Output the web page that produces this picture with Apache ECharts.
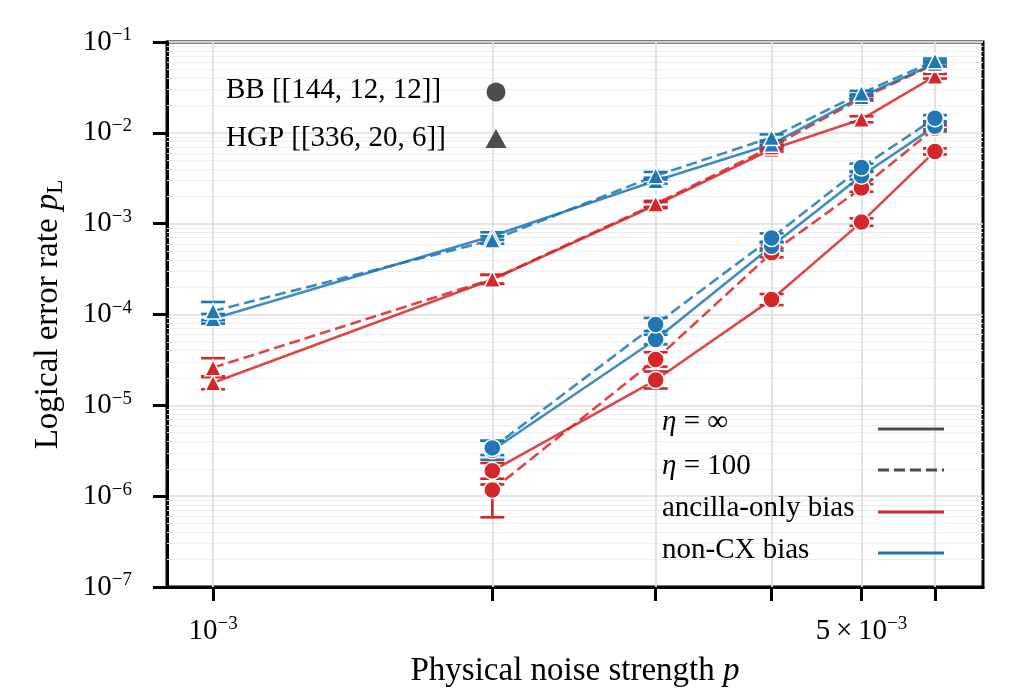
<!DOCTYPE html>
<html>
<head>
<meta charset="utf-8">
<script src="https://cdn.jsdelivr.net/npm/echarts@6/dist/echarts.min.js"></script>
<style>
  html, body { margin: 0; padding: 0; background: #fff; }
  #chart { width: 1013px; height: 693px; }
</style>
</head>
<body>
<div id="chart"></div>
<script>
// physical noise strengths
var pHGP = [0.001, 0.002, 0.003, 0.004, 0.005, 0.006];
var pBB = [0.002, 0.003, 0.004, 0.005, 0.006];

// HGP [[336,20,6]] logical error rates
var hgpAncInf = [1.77e-5, 2.43e-4, 1.60e-3, 6.6e-3, 1.41e-2, 4.2e-2];
var hgpAnc100 = [2.6e-5, 2.45e-4, 1.65e-3, 7.0e-3, 2.4e-2, 5.7e-2];
var hgpCxInf = [8.97e-5, 7.3e-4, 2.97e-3, 7.5e-3, 2.5e-2, 5.8e-2];
var hgpCx100 = [1.09e-4, 6.6e-4, 3.37e-3, 8.9e-3, 2.73e-2, 6.2e-2];

// BB [[144,12,12]] logical error rates
var bbAncInf = [1.9e-6, 1.9e-5, 1.46e-4, 1.04e-3, 6.24e-3];
var bbAnc100 = [1.17e-6, 3.2e-5, 4.77e-4, 2.47e-3, 1.12e-2];
var bbCxInf = [3.2e-6, 5.3e-5, 5.64e-4, 3.37e-3, 1.18e-2];
var bbCx100 = [3.4e-6, 7.76e-5, 6.97e-4, 4.16e-3, 1.45e-2];

// error bar extents (multiplicative factor above / below the point)
var hgpAncInfErr = [1.18, 1.12, 1.08, 1.06, 1.08, 1.06];
var hgpAnc100Err = [1.27, 1.12, 1.08, 1.06, 1.06, 1.06];
var hgpCxInfErr = [1.13, 1.1, 1.08, 1.06, 1.06, 1.06];
var hgpCx100Err = [1.26, 1.1, 1.1, 1.08, 1.06, 1.06];
var bbAncInfErr = [1.22, 1.24, 1.15, 1.1, 1.08];
var bbAnc100Err = [1.15, 1.2, 1.12, 1.1, 1.08];
var bbAnc100ErrDown = [2.0, 1.2, 1.12, 1.1, 1.08];
var bbCxInfErr = [1.27, 1.13, 1.12, 1.1, 1.08];
var bbCx100Err = [1.2, 1.18, 1.12, 1.1, 1.08];

// axis ticks
var xTicks = [0.001, 0.002, 0.003, 0.004, 0.005, 0.006];
var xLabelTicks = [0.001, 0.005];
var yDecades = [-7, -6, -5, -4, -3, -2, -1];

var RED = '#d62728', BLUE = '#1f77b4', GRAY = '#4d4d4d';
var SERIF = '"Liberation Serif", "DejaVu Serif", serif';
var xMin = 8.92e-4, xMax = 6.76e-3;

var curves = [
  {p: pHGP, y: hgpAncInf, up: hgpAncInfErr, dn: hgpAncInfErr, color: RED, dash: false, sym: 'triangle'},
  {p: pHGP, y: hgpAnc100, up: hgpAnc100Err, dn: hgpAnc100Err, color: RED, dash: true, sym: 'triangle'},
  {p: pHGP, y: hgpCxInf, up: hgpCxInfErr, dn: hgpCxInfErr, color: BLUE, dash: false, sym: 'triangle'},
  {p: pHGP, y: hgpCx100, up: hgpCx100Err, dn: hgpCx100Err, color: BLUE, dash: true, sym: 'triangle'},
  {p: pBB, y: bbAncInf, up: bbAncInfErr, dn: bbAncInfErr, color: RED, dash: false, sym: 'circle'},
  {p: pBB, y: bbAnc100, up: bbAnc100Err, dn: bbAnc100ErrDown, color: RED, dash: true, sym: 'circle'},
  {p: pBB, y: bbCxInf, up: bbCxInfErr, dn: bbCxInfErr, color: BLUE, dash: false, sym: 'circle'},
  {p: pBB, y: bbCx100, up: bbCx100Err, dn: bbCx100Err, color: BLUE, dash: true, sym: 'circle'}
];

// minor grid values 2..9 x 10^n
var minorY = [];
yDecades.forEach(function (n) {
  if (n >= -1) return;
  for (var k = 2; k <= 9; k++) minorY.push(k * Math.pow(10, n));
});

function powLabel(v) {
  var e = Math.floor(v + 1e-9);
  var m = Math.round(Math.pow(10, v - e));
  var ex = '\u2212' + (-e);
  return m === 1 ? '{b|10}{s|' + ex + '}' : '{b|' + m + '\u2009\u00d7\u200910}{s|' + ex + '}';
}

var tickRich = {
  b: {fontFamily: SERIF, fontSize: 29, color: '#000', lineHeight: 32},
  s: {fontFamily: SERIF, fontSize: 19, color: '#000', verticalAlign: 'top'}
};

var series = [];

// grid lines
series.push({
  type: 'line', data: [], z: 1, silent: true,
  markLine: {
    silent: true, z: 1, symbol: ['none', 'none'], label: {show: false}, animation: false, precision: 12,
    emphasis: {disabled: true},
    lineStyle: {color: '#eeeeee', width: 1, type: 'solid'},
    data: minorY.map(function (v) { return {yAxis: v}; })
  }
});
series.push({
  type: 'line', data: [], z: 1, silent: true,
  markLine: {
    silent: true, z: 1, symbol: ['none', 'none'], label: {show: false}, animation: false, precision: 12,
    emphasis: {disabled: true},
    lineStyle: {color: '#dedede', width: 1.8, type: 'solid'},
    data: xTicks.map(function (v) { return {xAxis: v}; })
  }
});

curves.forEach(function (c) {
  var col = c.color;
  series.push({
    type: 'custom', z: 3, silent: true,
    data: c.p.map(function (x, i) { return [x, c.y[i] / c.dn[i], c.y[i] * c.up[i]]; }),
    renderItem: function (params, api) {
      var top = api.coord([api.value(0), api.value(2)]);
      var bot = api.coord([api.value(0), api.value(1)]);
      var w = 12;
      var st = {stroke: col, lineWidth: 2.6};
      return {type: 'group', children: [
        {type: 'line', shape: {x1: top[0], y1: top[1], x2: bot[0], y2: bot[1]}, style: st},
        {type: 'line', shape: {x1: top[0] - w, y1: top[1], x2: top[0] + w, y2: top[1]}, style: st},
        {type: 'line', shape: {x1: bot[0] - w, y1: bot[1], x2: bot[0] + w, y2: bot[1]}, style: st}
      ]};
    }
  });
  series.push({
    type: 'line', z: 4,
    data: c.p.map(function (x, i) { return [x, c.y[i]]; }),
    symbol: c.sym, symbolSize: c.sym === 'circle' ? 17 : 16,
    lineStyle: {color: col, width: 2.6, type: c.dash ? [11, 5] : 'solid', opacity: 0.85},
    itemStyle: {color: col, borderColor: '#fff', borderWidth: 1.5},
    emphasis: {disabled: true}
  });
});

var etaRich = {
  i: {fontFamily: SERIF, fontSize: 29, fontStyle: 'italic', fill: '#000'},
  r: {fontFamily: SERIF, fontSize: 29, fill: '#000'}
};

var chart = echarts.init(document.getElementById('chart'));
chart.setOption({
  animation: false,
  backgroundColor: '#fff',
  grid: {left: 167, right: 30, top: 42, bottom: 105, show: true, borderColor: '#000', borderWidth: 3, backgroundColor: 'transparent'},
  xAxis: [
    {
      type: 'log', logBase: 10, min: xMin, max: xMax, position: 'bottom',
      axisLine: {show: false}, axisTick: {show: false}, axisLabel: {show: false}, splitLine: {show: false}
    },
    {
      type: 'value', min: Math.log10(xMin), max: Math.log10(xMax), position: 'bottom',
      axisLine: {show: true, onZero: false, lineStyle: {color: '#000', width: 3}},
      axisTick: {show: true, length: 14, customValues: xTicks.map(Math.log10), lineStyle: {color: '#000', width: 3}},
      axisLabel: {margin: 28, customValues: xLabelTicks.map(Math.log10), formatter: powLabel, rich: tickRich},
      splitLine: {show: false},
      name: '{t|Physical noise strength }{i|p}',
      nameLocation: 'middle', nameGap: 68,
      nameTextStyle: {rich: {
        t: {fontFamily: SERIF, fontSize: 33, color: '#000'},
        i: {fontFamily: SERIF, fontSize: 33, fontStyle: 'italic', color: '#000'}
      }}
    }
  ],
  yAxis: {
    type: 'log', logBase: 10, min: 1e-7, max: 1e-1,
    axisLine: {show: true, lineStyle: {color: '#000', width: 3}},
    axisTick: {show: true, length: 14, lineStyle: {color: '#000', width: 3}},
    axisLabel: {
      margin: 35, rich: tickRich,
      formatter: function (v) { return powLabel(Math.log10(v)); }
    },
    splitLine: {show: true, lineStyle: {color: '#dcdcdc', width: 1.5}},
    name: '{t|Logical error rate }{i|p}{sub|L}',
    nameLocation: 'middle', nameGap: 100,
    nameTextStyle: {rich: {
      t: {fontFamily: SERIF, fontSize: 33, color: '#000', lineHeight: 38},
      i: {fontFamily: SERIF, fontSize: 33, fontStyle: 'italic', color: '#000', lineHeight: 38},
      sub: {fontFamily: SERIF, fontSize: 23, color: '#000', lineHeight: 16, verticalAlign: 'bottom'}
    }}
  },
  series: series,
  graphic: [
    {type: 'text', z: 100, left: 226, top: 76, style: {text: 'BB [[144, 12, 12]]', font: '29px ' + SERIF, fill: '#000'}},
    {type: 'text', z: 100, left: 226, top: 124, style: {text: 'HGP [[336, 20, 6]]', font: '29px ' + SERIF, fill: '#000'}},
    {type: 'circle', z: 100, shape: {cx: 496, cy: 92, r: 9.5}, style: {fill: GRAY}},
    {type: 'polygon', z: 100, shape: {points: [[496, 129], [506.5, 148], [485.5, 148]]}, style: {fill: GRAY}},

    {type: 'text', z: 100, left: 662, top: 408, style: {text: '{i|\u03b7}{r| = \u221e}', rich: etaRich}},
    {type: 'text', z: 100, left: 662, top: 452, style: {text: '{i|\u03b7}{r| = 100}', rich: etaRich}},
    {type: 'text', z: 100, left: 662, top: 494, style: {text: 'ancilla-only bias', font: '29px ' + SERIF, fill: '#000'}},
    {type: 'text', z: 100, left: 662, top: 536, style: {text: 'non-CX bias', font: '29px ' + SERIF, fill: '#000'}},
    {type: 'line', z: 100, shape: {x1: 878, y1: 429, x2: 944, y2: 429}, style: {stroke: GRAY, lineWidth: 3.2}},
    {type: 'line', z: 100, shape: {x1: 878, y1: 470, x2: 944, y2: 470}, style: {stroke: GRAY, lineWidth: 3.2, lineDash: [11, 5]}},
    {type: 'line', z: 100, shape: {x1: 878, y1: 512, x2: 944, y2: 512}, style: {stroke: RED, lineWidth: 3.2}},
    {type: 'line', z: 100, shape: {x1: 878, y1: 553, x2: 944, y2: 553}, style: {stroke: BLUE, lineWidth: 3.2}}
  ]
});
</script>
</body>
</html>
